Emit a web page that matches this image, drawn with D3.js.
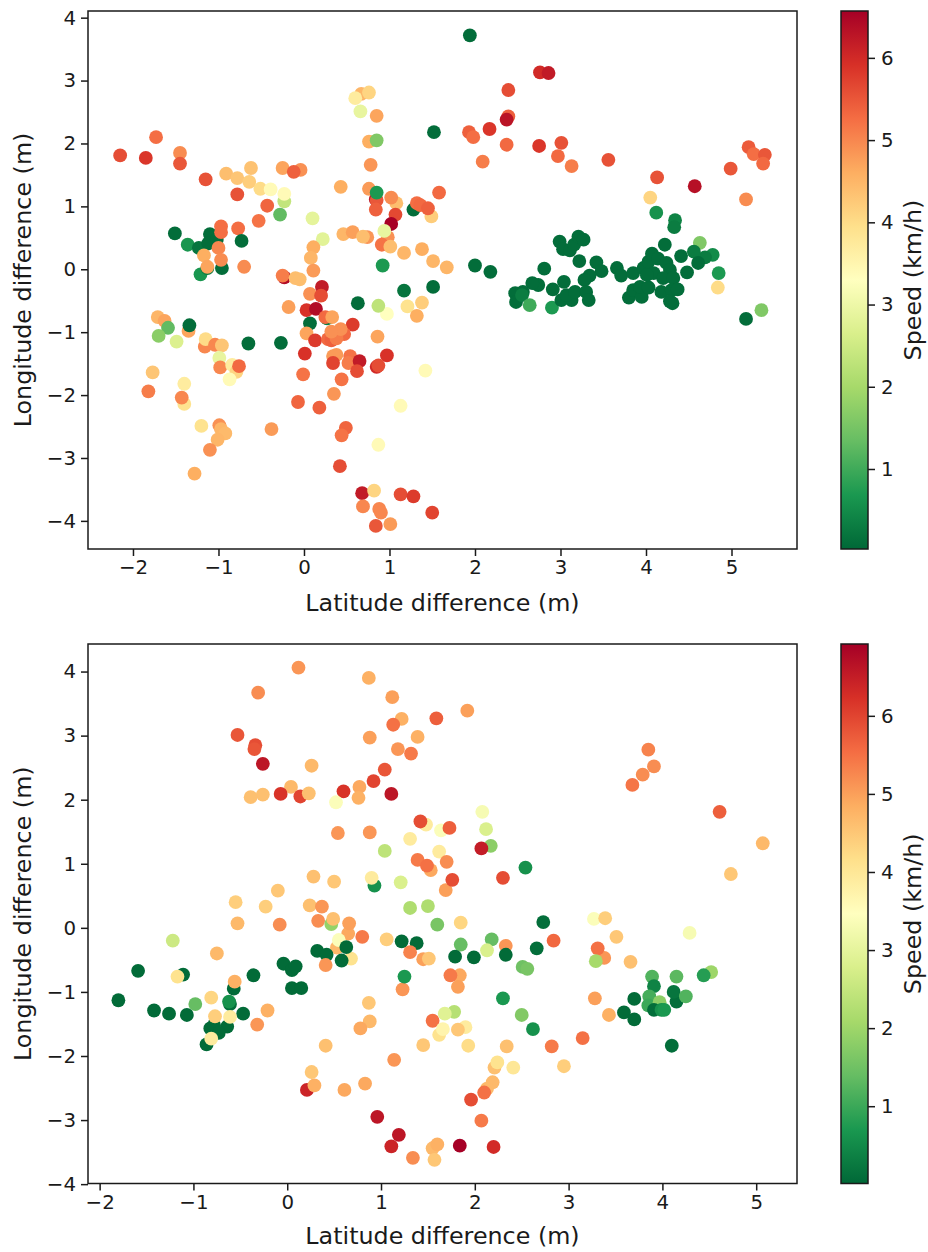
<!DOCTYPE html>
<html>
<head>
<meta charset="utf-8">
<title>Speed by position difference</title>
<script src="https://cdnjs.cloudflare.com/ajax/libs/d3/7.8.5/d3.min.js"></script>
<style>
  html, body { margin: 0; padding: 0; background: #fff; }
  svg { display: block; }
  text { font-family: "DejaVu Sans", sans-serif; fill: #1a1a1a; }
</style>
</head>
<body>
<div id="content"></div>
<script>

// top panel
const topLat = [
  -2.15,-1.85,-1.73,-1.45,-1.45,-1.15,-0.91,-0.78,-0.62,-0.64,
  -0.51,-0.39,-0.23,-0.23,-0.78,-0.43,-0.28,-0.53,-0.25,-0.04,
  -0.12,0.43,0.76,0.78,0.76,0.85,0.85,0.66,0.67,0.76,
  0.60,1.52,-1.51,-1.36,-1.23,-1.10,-1.12,-1.02,-0.96,-0.97,
  -0.97,-0.77,-0.73,-1.00,-1.17,-0.97,-1.21,-1.13,-1.13,-0.70,
  -0.23,-0.25,-0.10,-0.05,0.10,0.22,0.11,0.08,0.11,0.21,
  0.46,0.57,0.74,0.69,0.92,1.17,1.38,1.51,1.67,0.84,
  0.85,0.85,0.84,1.08,1.02,1.07,1.02,0.98,0.91,0.94,
  1.01,1.28,1.32,1.36,1.49,1.45,1.58,1.51,1.17,1.38,
  1.21,1.32,0.97,0.87,0.63,0.07,0.20,-0.18,0.03,0.14,
  0.27,0.25,0.33,0.07,0.03,0.57,0.47,0.13,0.28,0.32,
  0.38,0.43,0.32,0.86,0.01,0.38,0.34,0.34,0.54,0.52,
  0.65,0.62,0.97,0.85,0.87,1.42,-0.01,0.44,0.35,-0.07,
  0.18,1.13,0.49,0.44,0.87,-0.38,0.42,0.68,0.82,1.13,
  1.28,1.50,0.69,0.88,0.90,0.84,1.01,-1.71,-1.63,-1.59,
  -1.70,-1.35,-1.34,-1.49,-1.16,-1.15,-1.04,-0.96,-0.65,-0.27,
  -0.99,-0.98,-0.84,-0.79,-0.87,-0.76,-1.77,-1.82,-1.40,-1.40,
  -1.43,-1.20,-0.99,-0.97,-0.92,-1.01,-1.10,-1.28,1.94,2.76,
  2.86,2.39,2.39,2.37,2.17,1.93,1.98,2.37,2.75,3.01,
  2.97,3.13,3.56,2.09,4.13,4.57,4.99,5.20,5.26,5.39,
  5.37,5.17,4.05,4.12,4.34,4.33,4.63,4.22,4.56,4.78,
  4.69,4.61,4.41,4.48,4.85,4.84,5.35,5.17,2.00,2.18,
  2.81,2.99,3.03,3.11,3.16,3.21,3.27,3.22,3.42,3.48,
  3.34,3.28,3.04,2.91,2.74,2.67,2.56,2.47,2.48,2.55,
  2.64,2.90,3.01,3.13,3.07,3.17,3.30,3.33,3.66,3.71,
  3.85,3.80,3.85,3.95,3.93,4.03,3.97,4.03,4.07,4.14,
  4.24,4.28,4.09,4.01,4.20,4.32,4.18,4.30,4.37,4.31,
  4.28
];
const topLon = [
  1.81,1.77,2.10,1.85,1.68,1.43,1.52,1.45,1.61,1.39,
  1.28,1.27,1.08,1.20,1.19,1.01,0.87,0.77,1.61,1.58,
  1.55,1.31,1.28,1.66,2.03,2.05,2.44,2.51,2.79,2.81,
  2.72,2.18,0.57,0.39,0.34,0.56,0.41,0.47,0.02,0.68,
  0.59,0.65,0.45,0.34,0.22,0.15,-0.08,0.02,0.04,0.04,
  -0.13,-0.10,-0.14,-0.16,0.81,0.48,0.35,0.18,-0.02,-0.28,
  0.56,0.59,0.51,0.52,0.06,0.26,0.32,0.13,0.03,1.11,
  1.10,1.22,0.95,1.05,1.14,0.87,0.72,0.51,0.39,0.61,
  0.36,0.95,1.05,1.02,0.84,0.97,1.22,-0.28,-0.34,-0.53,
  -0.59,-0.74,-0.71,-0.58,-0.54,-0.39,-0.42,-0.60,-0.65,-0.63,
  -0.78,-0.76,-0.76,-0.86,-1.02,-0.88,-1.03,-1.13,-1.11,-1.13,
  -1.10,-0.95,-0.99,-1.07,-1.34,-1.36,-1.38,-1.49,-1.38,-1.49,
  -1.46,-1.62,-1.37,-1.55,-1.53,-1.61,-1.67,-1.75,-1.98,-2.11,
  -2.20,-2.17,-2.52,-2.64,-2.79,-2.54,-3.13,-3.56,-3.52,-3.58,
  -3.61,-3.87,-3.77,-3.81,-3.87,-4.08,-4.05,-0.76,-0.82,-0.93,
  -1.06,-0.98,-0.89,-1.15,-1.23,-1.11,-1.20,-1.21,-1.18,-1.17,
  -1.41,-1.56,-1.52,-1.63,-1.75,-1.54,-1.64,-1.94,-1.82,-2.14,
  -2.04,-2.49,-2.48,-2.54,-2.61,-2.71,-2.87,-3.25,3.72,3.13,
  3.12,2.85,2.43,2.38,2.23,2.18,2.10,1.98,1.96,2.01,
  1.80,1.64,1.74,1.71,1.46,1.32,1.60,1.94,1.83,1.82,
  1.68,1.11,1.14,0.90,0.78,0.67,0.42,0.39,0.28,0.23,
  0.19,0.10,0.21,-0.05,-0.06,-0.29,-0.65,-0.79,0.06,-0.04,
  0.01,0.44,0.32,0.30,0.39,0.52,0.47,0.13,0.11,-0.03,
  -0.10,-0.17,-0.20,-0.32,-0.25,-0.22,-0.36,-0.38,-0.52,-0.41,
  -0.57,-0.61,-0.49,-0.49,-0.41,-0.36,-0.36,-0.49,0.02,-0.10,
  -0.06,-0.45,-0.33,-0.44,-0.28,-0.29,0.02,0.12,0.25,0.17,
  0.10,-0.01,-0.06,-0.09,-0.14,-0.14,-0.36,-0.33,-0.32,-0.54,
  -0.51
];
const topSpeed = [
  5.6,5.85,5.25,4.95,5.5,5.55,4.4,4.3,4.35,4.2,
  4.0,3.4,2.35,3.4,5.55,5.35,1.3,5.2,4.7,4.9,
  5.4,4.6,4.8,4.85,4.6,1.6,4.7,2.9,4.5,4.1,
  3.7,0.1,0.1,0.65,0.2,0.1,0.1,0.1,0.1,5.25,
  5.25,5.25,0.1,5.0,4.6,4.95,0.65,0.3,4.7,4.95,
  6.4,5.1,4.4,4.4,2.85,2.8,4.6,4.5,4.8,6.2,
  4.5,4.75,4.85,4.4,0.7,4.5,4.6,4.5,4.5,6.3,
  5.5,0.7,5.4,4.4,4.95,5.65,6.55,4.9,5.2,2.9,
  4.4,0.1,5.25,5.3,4.2,5.4,5.3,0.1,0.2,4.2,
  3.9,4.6,3.3,2.3,0.1,4.9,5.6,4.75,5.9,6.4,
  0.3,5.3,4.7,0.1,4.7,5.8,5.3,5.8,5.3,5.4,
  5.1,4.9,4.9,4.7,5.9,4.8,4.8,5.7,5.2,5.1,
  6.2,5.6,5.9,6.0,5.6,3.4,5.2,5.2,4.85,5.35,
  5.4,3.4,5.35,5.2,3.4,4.8,5.6,6.2,4.1,5.6,
  5.8,5.7,5.0,5.0,5.0,5.5,4.8,4.5,4.7,1.3,
  1.7,4.7,0.1,2.7,5.0,4.0,5.0,4.3,0.1,0.1,
  2.9,5.0,3.7,4.1,3.4,5.3,4.3,5.1,3.7,3.9,
  5.0,3.9,4.9,4.5,4.45,4.5,4.9,4.6,0.1,6.0,
  6.2,5.6,5.4,6.3,5.85,5.4,5.25,5.3,5.85,5.55,
  5.3,5.1,5.55,5.1,5.55,6.35,5.5,5.45,5.25,5.5,
  5.3,4.95,4.1,0.6,0.4,0.3,1.6,0.1,0.3,0.5,
  0.3,0.1,0.1,0.1,0.7,4.0,1.6,0.1,0.1,0.1,
  0.1,0.1,0.1,0.1,0.1,0.1,0.1,0.1,0.1,0.1,
  0.1,0.1,0.1,0.1,0.1,0.1,0.1,0.1,0.1,0.3,
  1.0,0.7,0.1,0.1,0.1,0.1,0.1,0.1,0.1,0.1,
  0.1,0.1,0.1,0.1,0.1,0.1,0.1,0.1,0.1,0.1,
  0.1,0.1,0.1,0.1,0.1,0.1,0.1,0.1,0.1,0.1,
  0.1
];

// bottom panel
const botLat = [
  0.12,-0.31,0.87,1.12,1.22,1.13,1.59,-0.53,-0.34,-0.35,
  -0.26,0.88,1.39,1.18,1.32,0.26,1.04,0.92,0.77,0.76,
  0.60,1.11,0.04,-0.07,0.14,0.23,-0.26,-0.39,0.52,1.48,
  1.42,1.64,0.54,0.88,1.31,1.04,1.62,1.39,1.53,1.49,
  1.70,0.28,0.50,0.93,0.90,1.21,-0.10,-0.55,-0.23,0.24,
  0.37,1.31,1.50,1.69,1.76,-0.53,-0.08,0.33,0.47,0.49,
  0.65,0.66,0.80,1.06,1.22,1.38,1.31,1.45,1.51,1.60,
  -1.22,-0.75,-1.59,-1.11,-1.17,-0.36,-0.04,0.05,0.09,0.68,
  0.53,0.55,0.58,0.63,0.32,0.42,0.41,1.23,1.25,0.87,
  0.88,0.78,0.41,0.26,0.21,0.29,0.61,0.83,1.14,1.45,
  0.96,1.19,1.11,1.34,1.55,1.60,1.57,1.55,1.62,1.66,
  -1.80,-1.42,-1.26,-1.07,-0.98,-0.81,-0.57,-0.56,-0.61,-0.62,
  -0.47,-0.21,-0.32,0.05,0.15,-0.64,-0.82,-0.78,-0.73,-0.86,
  -0.61,-0.77,-0.81,1.92,3.85,3.91,3.79,3.68,4.61,5.07,
  4.73,2.08,2.12,2.17,2.07,1.73,2.30,2.54,2.73,2.84,
  2.66,1.85,1.85,2.18,2.33,2.13,2.33,1.79,1.99,2.51,
  2.56,1.84,1.74,1.82,2.30,2.50,2.62,1.78,1.68,1.90,
  1.82,1.93,2.34,2.82,3.15,2.95,2.41,2.21,2.24,2.19,
  2.13,2.10,1.96,2.07,1.84,2.20,3.27,3.39,3.51,3.38,
  3.31,3.29,3.66,4.29,4.52,4.44,3.89,4.15,3.91,4.15,
  4.12,4.25,3.70,3.86,3.85,3.97,3.91,3.99,4.02,3.59,
  3.70,4.10,3.28,3.43
];
const botLon = [
  4.06,3.67,3.90,3.60,3.26,3.17,3.27,3.01,2.85,2.79,
  2.56,2.97,2.98,2.79,2.72,2.53,2.47,2.29,2.20,2.03,
  2.13,2.09,2.20,2.09,2.05,2.10,2.08,2.04,1.96,1.61,
  1.66,1.52,1.48,1.49,1.39,1.20,1.19,1.06,0.90,0.97,
  1.03,0.80,0.72,0.66,0.78,0.71,0.58,0.40,0.33,0.35,
  0.33,0.31,0.34,0.59,0.75,0.07,0.05,0.11,0.06,0.14,
  -0.09,0.07,-0.14,-0.18,-0.21,-0.24,-0.38,-0.49,-0.48,0.05,
  -0.20,-0.40,-0.67,-0.73,-0.76,-0.74,-0.56,-0.66,-0.60,-0.48,
  -0.31,-0.19,-0.51,-0.30,-0.36,-0.42,-0.58,-0.96,-0.76,-1.17,
  -1.46,-1.57,-1.84,-2.25,-2.53,-2.46,-2.53,-2.43,-2.06,-1.83,
  -2.95,-3.23,-3.41,-3.59,-3.44,-3.38,-3.62,-1.45,-1.67,-1.58,
  -1.13,-1.29,-1.34,-1.36,-1.19,-1.09,-0.95,-0.84,-1.19,-1.15,
  -1.34,-1.29,-1.51,-0.94,-0.94,-1.54,-1.57,-1.52,-1.64,-1.82,
  -1.39,-1.38,-1.73,3.39,2.78,2.52,2.39,2.23,1.81,1.32,
  0.84,1.81,1.54,1.28,1.24,1.56,0.78,0.94,0.09,-0.20,
  -0.32,0.08,-0.26,-0.18,-0.28,-0.35,-0.42,-0.45,-0.46,-0.61,
  -0.64,-0.74,-0.74,-0.92,-1.10,-1.36,-1.58,-1.31,-1.34,-1.55,
  -1.59,-1.84,-1.85,-1.85,-1.72,-2.16,-2.18,-2.18,-2.10,-2.41,
  -2.51,-2.57,-2.68,-3.01,-3.40,-3.42,0.14,0.15,-0.14,-0.47,
  -0.32,-0.52,-0.53,-0.08,-0.69,-0.74,-0.76,-0.76,-0.91,-1.15,
  -1.00,-1.07,-1.11,-1.07,-1.21,-1.16,-1.28,-1.28,-1.28,-1.32,
  -1.43,-1.84,-1.10,-1.36
];
const botSpeed = [
  5.1,5.2,4.8,5.0,4.8,5.5,5.7,5.8,5.9,5.8,
  6.6,5.0,4.8,5.1,5.4,4.7,5.8,6.0,4.9,4.8,
  6.2,6.6,4.7,6.2,6.0,4.6,4.6,4.6,3.4,3.9,
  5.9,3.4,5.1,5.1,3.9,2.4,3.9,5.4,4.9,5.5,
  5.2,4.6,4.5,0.6,3.9,2.8,4.5,4.4,4.4,4.6,
  5.1,2.2,2.2,5.0,5.9,4.7,5.2,5.2,1.9,4.6,
  4.9,5.0,5.4,4.4,0.05,0.05,5.3,5.0,4.5,1.6,
  2.6,4.7,0.05,0.05,4.1,0.05,0.05,0.05,0.05,4.1,
  4.7,3.4,0.05,0.05,0.05,0.05,5.1,5.1,0.7,4.5,
  4.7,4.9,4.6,4.5,6.4,4.8,4.9,4.9,5.1,4.5,
  6.6,6.6,6.4,5.2,4.7,4.8,4.5,5.5,4.1,3.7,
  0.05,0.05,0.05,0.05,1.4,4.3,0.05,4.8,0.1,0.6,
  0.05,4.8,5.1,0.05,0.05,0.05,0.05,0.05,0.05,0.05,
  3.9,4.4,3.9,5.0,5.3,5.2,5.2,5.45,5.7,4.7,
  4.5,3.3,2.8,1.8,6.5,5.7,5.9,0.6,0.1,5.6,
  0.1,4.3,1.4,1.4,5.1,2.8,0.05,0.05,0.05,1.5,
  1.6,4.9,5.4,5.0,0.7,1.7,0.6,2.3,2.9,3.9,
  4.5,4.2,4.6,5.4,5.5,4.4,4.0,4.6,4.1,4.7,
  4.7,5.5,5.9,5.4,6.9,6.3,3.4,4.4,4.5,5.1,
  5.5,2.1,4.6,3.3,2.0,0.8,1.2,1.3,0.4,0.1,
  0.2,1.2,0.05,1.1,1.0,1.8,0.1,0.6,0.7,0.05,
  0.05,0.1,5.0,4.8
];

const latTicks = [-2, -1, 0, 1, 2, 3, 4, 5];
const lonTicks = [-4, -3, -2, -1, 0, 1, 2, 3, 4];
const speedTicks = [1, 2, 3, 4, 5, 6];
// matplotlib RdYlGn_r stops
const cmapStops = ["#006837","#1a9850","#66bd63","#a6d96a","#d9ef8b","#ffffbf","#fee08b","#fdae61","#f46d43","#d73027","#a50026"];

const width = 928;
const height = 1252;

const svg = d3.select('#content')
  .append('svg')
    .attr('width', width)
    .attr('height', height);

const defs = svg.append('defs');

function drawPanel(id, lat, lon, speed, box, latDomain, lonDomain, speedDomain, xlabelGap) {
  const x = d3.scaleLinear().domain(latDomain).range([box.left, box.right]);
  const y = d3.scaleLinear().domain(lonDomain).range([box.bottom, box.top]);

  const stopT = cmapStops.map((c, i) => speedDomain[0] + (speedDomain[1] - speedDomain[0]) * i / 10);
  const color = d3.scaleLinear().domain(stopT).range(cmapStops).clamp(true);

  const points = d3.range(lat.length).map(i => ({ lat: lat[i], lon: lon[i], speed: speed[i] }));

  svg.append('g')
    .selectAll('circle')
    .data(points)
    .join('circle')
      .attr('cx', d => x(d.lat))
      .attr('cy', d => y(d.lon))
      .attr('r', 6.9)
      .attr('fill', d => color(d.speed));

  const xAxis = d3.axisBottom(x).tickValues(latTicks).tickSize(7).tickPadding(4).tickSizeOuter(0);
  const yAxis = d3.axisLeft(y).tickValues(lonTicks).tickSize(7).tickPadding(5).tickSizeOuter(0);

  const gx = svg.append('g').attr('transform', `translate(0,${box.bottom})`).call(xAxis);
  const gy = svg.append('g').attr('transform', `translate(${box.left},0)`).call(yAxis);
  [gx, gy].forEach(g => {
    g.select('.domain').remove();
    g.selectAll('line').attr('stroke', '#1a1a1a').attr('stroke-width', 1.5);
    g.selectAll('text').attr('font-size', 19.8).attr('fill', '#1a1a1a');
  });

  svg.append('rect')
    .attr('x', box.left).attr('y', box.top)
    .attr('width', box.right - box.left).attr('height', box.bottom - box.top)
    .attr('fill', 'none').attr('stroke', '#1a1a1a').attr('stroke-width', 1.5);

  svg.append('text')
    .attr('x', (box.left + box.right) / 2).attr('y', box.bottom + xlabelGap)
    .attr('text-anchor', 'middle').attr('font-size', 23.8)
    .text('Latitude difference (m)');

  svg.append('text')
    .attr('transform', `translate(31,${(box.top + box.bottom) / 2}) rotate(-90)`)
    .attr('text-anchor', 'middle').attr('font-size', 23.8)
    .text('Longitude difference (m)');

  // colorbar
  const grad = defs.append('linearGradient')
    .attr('id', 'cmap' + id)
    .attr('x1', 0).attr('y1', 1).attr('x2', 0).attr('y2', 0);
  cmapStops.forEach((c, i) => {
    grad.append('stop').attr('offset', i / 10).attr('stop-color', c);
  });

  const cbar = { left: 841, right: 868 };
  svg.append('rect')
    .attr('x', cbar.left).attr('y', box.top)
    .attr('width', cbar.right - cbar.left).attr('height', box.bottom - box.top)
    .attr('fill', `url(#cmap${id})`)
    .attr('stroke', '#1a1a1a').attr('stroke-width', 1.5);

  const s = d3.scaleLinear().domain(speedDomain).range([box.bottom, box.top]);
  const gc = svg.append('g')
    .attr('transform', `translate(${cbar.right},0)`)
    .call(d3.axisRight(s).tickValues(speedTicks).tickFormat(d3.format('d')).tickSize(7).tickPadding(6).tickSizeOuter(0));
  gc.select('.domain').remove();
  gc.selectAll('line').attr('stroke', '#1a1a1a').attr('stroke-width', 1.5);
  gc.selectAll('text').attr('font-size', 19.8).attr('fill', '#1a1a1a');

  svg.append('text')
    .attr('transform', `translate(921,${(box.top + box.bottom) / 2}) rotate(-90)`)
    .attr('text-anchor', 'middle').attr('font-size', 23.8)
    .text('Speed (km/h)');
}

drawPanel('A', topLat, topLon, topSpeed,
  { left: 88, right: 797, top: 11, bottom: 549 },
  [-2.526, 5.766], [-4.447, 4.106], [0.027, 6.57], 62);

drawPanel('B', botLat, botLon, botSpeed,
  { left: 88, right: 797, top: 644, bottom: 1183.5 },
  [-2.124, 5.435], [-3.99, 4.43], [0.01, 6.92], 60);

</script>
</body>
</html>
